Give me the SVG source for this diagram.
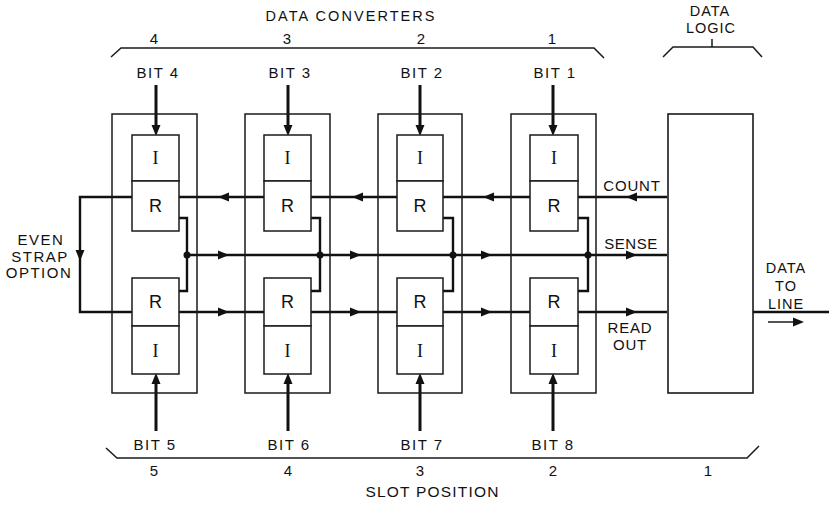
<svg xmlns="http://www.w3.org/2000/svg" xmlns:xlink="http://www.w3.org/1999/xlink" width="829" height="505" viewBox="0 0 829 505">
<style>
.box{fill:none;stroke:#1a1a1a;stroke-width:1.5}
.cell{fill:#fff;stroke:#1a1a1a;stroke-width:1.5}
.lg{fill:#fff;stroke:#1a1a1a;stroke-width:1.6}
.sig{fill:none;stroke:#111;stroke-width:2.4}
.bit{fill:none;stroke:#111;stroke-width:3}
.thin{fill:none;stroke:#1a1a1a;stroke-width:1.5}
.ah{fill:#111}
text{font-family:"Liberation Sans",Arial,sans-serif;fill:#111}
.lb{font-size:15px;text-anchor:middle;letter-spacing:1.5px}
.num{font-size:15px;text-anchor:middle}
.r{font-size:18px;text-anchor:middle}
.i{font-family:"Liberation Serif","Times New Roman",serif;font-size:18px;text-anchor:middle}
</style>
<defs>
<path id="ah" d="M0,0 L-11,-4.5 L-11,4.5 Z"/>
</defs>
<rect width="829" height="505" fill="#fff"/>

<g id="connectors">
  <path class="sig" d="M667,197 H80 V312 H667"/>
  <path class="sig" d="M187,255 H667"/>
  <path class="sig" d="M179,218 H187 V291 H179"/>
  <path class="sig" d="M311,218 H320 V291 H311"/>
  <path class="sig" d="M443,218 H453 V291 H443"/>
  <path class="sig" d="M578,218 H588 V291 H578"/>
  <circle cx="187" cy="255" r="3.5" class="ah"/>
  <circle cx="320" cy="255" r="3.5" class="ah"/>
  <circle cx="453" cy="255" r="3.5" class="ah"/>
  <circle cx="588" cy="255" r="3.5" class="ah"/>
  <path class="sig" d="M753,312 H829"/>
  <path class="thin" d="M768,322 H798" stroke-width="2"/>
  <use xlink:href="#ah" class="ah" transform="translate(804,322)"/>
  <use xlink:href="#ah" class="ah" transform="translate(218,197) rotate(180)"/>
  <use xlink:href="#ah" class="ah" transform="translate(352,197) rotate(180)"/>
  <use xlink:href="#ah" class="ah" transform="translate(483,197) rotate(180)"/>
  <use xlink:href="#ah" class="ah" transform="translate(626,197) rotate(180)"/>
  <use xlink:href="#ah" class="ah" transform="translate(229,255)"/>
  <use xlink:href="#ah" class="ah" transform="translate(361,255)"/>
  <use xlink:href="#ah" class="ah" transform="translate(492,255)"/>
  <use xlink:href="#ah" class="ah" transform="translate(637,255)"/>
  <use xlink:href="#ah" class="ah" transform="translate(229,312)"/>
  <use xlink:href="#ah" class="ah" transform="translate(361,312)"/>
  <use xlink:href="#ah" class="ah" transform="translate(492,312)"/>
  <use xlink:href="#ah" class="ah" transform="translate(637,312)"/>
  <use xlink:href="#ah" class="ah" transform="translate(80,261) rotate(90)"/>
  <path class="bit" d="M156,85 V126"/>
  <path class="bit" d="M288,85 V126"/>
  <path class="bit" d="M420,85 V126"/>
  <path class="bit" d="M553,85 V126"/>
  <use xlink:href="#ah" class="ah" transform="translate(156,136) rotate(90)"/>
  <use xlink:href="#ah" class="ah" transform="translate(288,136) rotate(90)"/>
  <use xlink:href="#ah" class="ah" transform="translate(420,136) rotate(90)"/>
  <use xlink:href="#ah" class="ah" transform="translate(553,136) rotate(90)"/>
  <path class="bit" d="M156,431 V383"/>
  <path class="bit" d="M288,431 V383"/>
  <path class="bit" d="M420,431 V383"/>
  <path class="bit" d="M553,431 V383"/>
  <use xlink:href="#ah" class="ah" transform="translate(156,373) rotate(-90)"/>
  <use xlink:href="#ah" class="ah" transform="translate(288,373) rotate(-90)"/>
  <use xlink:href="#ah" class="ah" transform="translate(420,373) rotate(-90)"/>
  <use xlink:href="#ah" class="ah" transform="translate(553,373) rotate(-90)"/>
</g>

<g id="converter4">
  <rect class="box" x="112" y="114" width="85" height="279"/>
  <rect class="cell" x="132" y="135" width="47" height="46"/>
  <rect class="cell" x="132" y="181" width="47" height="50"/>
  <rect class="cell" x="132" y="278" width="47" height="48"/>
  <rect class="cell" x="132" y="326" width="47" height="48"/>
  <text class="i" x="155.5" y="164">I</text>
  <text class="r" x="155.5" y="212">R</text>
  <text class="r" x="155.5" y="308">R</text>
  <text class="i" x="155.5" y="357">I</text>
</g>
<g id="converter3">
  <rect class="box" x="245" y="114" width="85" height="279"/>
  <rect class="cell" x="264" y="135" width="47" height="46"/>
  <rect class="cell" x="264" y="181" width="47" height="50"/>
  <rect class="cell" x="264" y="278" width="47" height="48"/>
  <rect class="cell" x="264" y="326" width="47" height="48"/>
  <text class="i" x="287.5" y="164">I</text>
  <text class="r" x="287.5" y="212">R</text>
  <text class="r" x="287.5" y="308">R</text>
  <text class="i" x="287.5" y="357">I</text>
</g>
<g id="converter2">
  <rect class="box" x="378" y="114" width="84" height="279"/>
  <rect class="cell" x="397" y="135" width="46" height="46"/>
  <rect class="cell" x="397" y="181" width="46" height="50"/>
  <rect class="cell" x="397" y="278" width="46" height="48"/>
  <rect class="cell" x="397" y="326" width="46" height="48"/>
  <text class="i" x="420" y="164">I</text>
  <text class="r" x="420" y="212">R</text>
  <text class="r" x="420" y="308">R</text>
  <text class="i" x="420" y="357">I</text>
</g>
<g id="converter1">
  <rect class="box" x="511" y="114" width="85" height="279"/>
  <rect class="cell" x="530" y="135" width="48" height="46"/>
  <rect class="cell" x="530" y="181" width="48" height="50"/>
  <rect class="cell" x="530" y="278" width="48" height="48"/>
  <rect class="cell" x="530" y="326" width="48" height="48"/>
  <text class="i" x="554" y="164">I</text>
  <text class="r" x="554" y="212">R</text>
  <text class="r" x="554" y="308">R</text>
  <text class="i" x="554" y="357">I</text>
</g>
<g id="datalogic">
  <rect class="lg" x="668" y="114" width="85" height="279"/>
</g>

<g id="labels">
  <text x="350" y="21" font-size="14.5" text-anchor="middle" textLength="169" lengthAdjust="spacing">DATA  CONVERTERS</text>
  <text class="num" x="154" y="44">4</text>
  <text class="num" x="287" y="44">3</text>
  <text class="num" x="421" y="44">2</text>
  <text class="num" x="552" y="44">1</text>
  <path class="thin" d="M111,57 L121,48 H594 L604,58"/>
  <text class="lb" x="158" y="78">BIT 4</text>
  <text class="lb" x="290" y="78">BIT 3</text>
  <text class="lb" x="422" y="78">BIT 2</text>
  <text class="lb" x="555" y="78">BIT 1</text>

  <text x="710" y="16" font-size="14.5" text-anchor="middle" letter-spacing="1">DATA</text>
  <text x="711" y="33" font-size="14.5" text-anchor="middle" letter-spacing="1">LOGIC</text>
  <path class="thin" d="M712,39 V47 M663,57 L673,47 H753 L762,57"/>

  <text class="lb" x="41" y="245">EVEN</text>
  <text class="lb" x="40" y="262">STRAP</text>
  <text class="lb" x="39" y="278">OPTION</text>

  <text x="632" y="191" font-size="15" text-anchor="middle" letter-spacing="0.8">COUNT</text>
  <text x="631" y="249" font-size="15" text-anchor="middle" letter-spacing="0.5">SENSE</text>
  <text x="630" y="333" font-size="15" text-anchor="middle" letter-spacing="0.8">READ</text>
  <text x="630" y="350" font-size="15" text-anchor="middle" letter-spacing="0.8">OUT</text>

  <text x="786" y="273" font-size="14.5" text-anchor="middle" letter-spacing="1">DATA</text>
  <text x="786" y="291" font-size="14.5" text-anchor="middle" letter-spacing="1">TO</text>
  <text x="786" y="309" font-size="14.5" text-anchor="middle" letter-spacing="1">LINE</text>

  <text class="lb" x="155" y="450">BIT 5</text>
  <text class="lb" x="289" y="450">BIT 6</text>
  <text class="lb" x="422" y="450">BIT 7</text>
  <text class="lb" x="553" y="450">BIT 8</text>
  <path class="thin" d="M106,448 L117,458 H747 L759,446"/>
  <text class="num" x="154" y="476">5</text>
  <text class="num" x="288" y="476">4</text>
  <text class="num" x="420" y="476">3</text>
  <text class="num" x="553" y="476">2</text>
  <text class="num" x="708" y="476">1</text>
  <text x="432" y="497" font-size="15.5" text-anchor="middle" textLength="133" lengthAdjust="spacing">SLOT  POSITION</text>
</g>
</svg>
